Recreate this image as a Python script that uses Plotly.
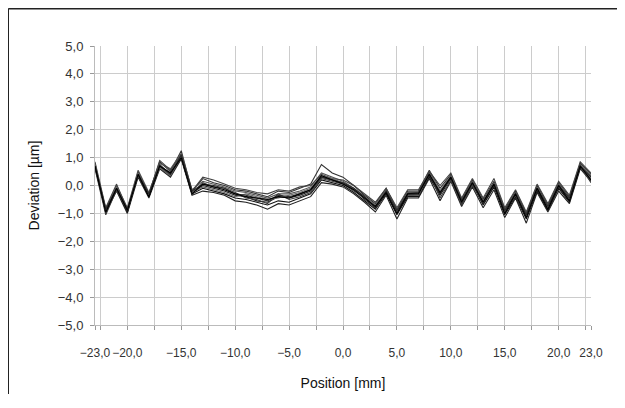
import plotly.graph_objects as go

positions = list(range(-23, 24))

s1 = [0.80,-1.00,-0.05,-0.95,0.45,-0.30,0.85,0.50,1.25,-0.20,0.25,0.10,0.00,-0.15,-0.20,-0.30,-0.40,-0.20,-0.25,-0.10,0.05,0.75,0.45,0.30,0.00,-0.35,-0.65,-0.10,-0.85,-0.20,-0.20,0.55,-0.10,0.40,-0.50,0.20,-0.50,0.15,-0.85,-0.20,-1.00,0.00,-0.70,0.10,-0.40,0.80,0.40]
s2 = [0.70,-0.90,-0.15,-0.85,0.35,-0.40,0.65,0.35,1.00,-0.30,-0.10,-0.20,-0.30,-0.45,-0.50,-0.60,-0.70,-0.55,-0.60,-0.45,-0.30,0.20,0.10,0.00,-0.25,-0.55,-0.85,-0.30,-1.05,-0.40,-0.40,0.30,-0.35,0.25,-0.65,0.05,-0.70,-0.05,-1.05,-0.40,-1.20,-0.20,-0.90,-0.10,-0.60,0.65,0.20]
s3 = [0.75,-0.85,0.00,-0.80,0.55,-0.25,0.80,0.60,1.15,-0.15,0.15,0.05,-0.05,-0.20,-0.25,-0.35,-0.45,-0.30,-0.30,-0.20,-0.05,0.45,0.30,0.15,-0.10,-0.40,-0.70,-0.15,-0.90,-0.25,-0.25,0.50,-0.20,0.35,-0.55,0.15,-0.55,0.10,-0.90,-0.25,-1.05,-0.05,-0.75,0.05,-0.45,0.75,0.35]
s4 = [0.65,-0.95,-0.20,-1.00,0.30,-0.45,0.60,0.30,0.95,-0.35,-0.20,-0.25,-0.35,-0.55,-0.60,-0.70,-0.85,-0.65,-0.70,-0.55,-0.40,0.10,0.05,-0.05,-0.30,-0.60,-0.95,-0.35,-1.20,-0.45,-0.45,0.25,-0.55,0.15,-0.75,-0.05,-0.80,-0.15,-1.15,-0.45,-1.35,-0.25,-0.95,-0.20,-0.65,0.60,0.15]
s5 = [0.85,-0.80,0.05,-0.85,0.50,-0.30,0.90,0.55,1.10,-0.20,0.30,0.20,0.05,-0.10,-0.15,-0.25,-0.30,-0.15,-0.20,-0.05,0.00,0.40,0.25,0.20,0.00,-0.30,-0.60,-0.10,-0.80,-0.15,-0.15,0.50,0.00,0.45,-0.45,0.25,-0.45,0.25,-0.80,-0.15,-0.95,0.05,-0.65,0.15,-0.35,0.85,0.45]
s6 = [0.70,-0.95,-0.10,-0.95,0.40,-0.40,0.70,0.45,1.05,-0.25,0.00,-0.10,-0.20,-0.35,-0.40,-0.55,-0.60,-0.40,-0.45,-0.35,-0.20,0.30,0.20,0.10,-0.15,-0.50,-0.80,-0.25,-1.00,-0.35,-0.35,0.35,-0.30,0.30,-0.60,0.10,-0.65,0.00,-1.00,-0.30,-1.15,-0.15,-0.85,-0.05,-0.55,0.70,0.30]
s7 = [0.60,-1.05,-0.15,-0.90,0.35,-0.35,0.75,0.40,1.00,-0.30,0.10,-0.05,-0.10,-0.25,-0.45,-0.50,-0.65,-0.30,-0.50,-0.40,-0.25,0.25,0.15,0.05,-0.20,-0.45,-0.75,-0.20,-0.95,-0.30,-0.30,0.45,-0.45,0.20,-0.70,0.00,-0.60,0.05,-0.95,-0.35,-1.10,-0.10,-0.80,0.00,-0.50,0.70,0.10]
s8 = [0.75,-0.90,-0.05,-0.90,0.45,-0.35,0.65,0.35,1.05,-0.25,-0.05,-0.15,-0.25,-0.40,-0.30,-0.40,-0.50,-0.45,-0.35,-0.25,-0.10,0.35,0.25,0.10,-0.15,-0.45,-0.70,-0.20,-0.95,-0.30,-0.35,0.40,-0.20,0.35,-0.60,0.10,-0.60,0.05,-0.95,-0.30,-1.10,-0.10,-0.80,0.00,-0.50,0.70,0.25]
s9 = [0.70,-0.85,-0.10,-0.85,0.40,-0.30,0.70,0.40,1.10,-0.20,0.05,0.00,-0.10,-0.30,-0.35,-0.45,-0.55,-0.35,-0.40,-0.30,-0.15,0.30,0.20,0.10,-0.10,-0.40,-0.80,-0.20,-0.90,-0.30,-0.25,0.40,-0.30,0.30,-0.55,0.10,-0.60,0.05,-0.90,-0.30,-1.05,-0.10,-0.75,0.00,-0.45,0.70,0.30]
s10 = [0.70,-0.95,-0.10,-0.90,0.40,-0.40,0.70,0.45,1.00,-0.30,0.05,-0.05,-0.15,-0.30,-0.40,-0.45,-0.50,-0.40,-0.45,-0.30,-0.15,0.35,0.20,0.05,-0.15,-0.45,-0.75,-0.25,-1.00,-0.30,-0.30,0.40,-0.25,0.30,-0.60,0.10,-0.60,0.05,-1.00,-0.30,-1.15,-0.10,-0.85,0.00,-0.55,0.70,0.20]

series = [s1, s2, s3, s4, s5, s6, s7, s8, s9, s10]
line_colors = ["#333333", "#111111", "#555555", "#222222", "#444444",
               "#1a1a1a", "#3a3a3a", "#666666", "#2a2a2a", "#000000"]

x_label_vals = [-23, -20, -15, -10, -5, 0, 5, 10, 15, 20, 23]
x_label_text = ["\u221223,0", "\u221220,0", "\u221215,0", "\u221210,0", "\u22125,0",
                "0,0", "5,0", "10,0", "15,0", "20,0", "23,0"]
x_grid_vals = [-22.5, -20, -17.5, -15, -12.5, -10, -7.5, -5, -2.5, 0,
               2.5, 5, 7.5, 10, 12.5, 15, 17.5, 20, 22.5]

for s in series:
    assert len(s) == len(positions), len(s)

fig = go.Figure()
for s, c in zip(series, line_colors):
    fig.add_trace(go.Scatter(x=positions, y=s, mode="lines",
                             line=dict(color=c, width=1.1), showlegend=False,
                             hoverinfo="skip"))

font_family = "Liberation Sans, Arial, sans-serif"

fig.update_layout(
    width=609, height=386,
    margin=dict(l=87, r=26, t=38, b=69, autoexpand=False),
    paper_bgcolor="white", plot_bgcolor="white",
    separators=", ",
    font=dict(family=font_family, size=13, color="#333333"),
    xaxis=dict(
        range=[-23, 23], automargin=False, tickangle=0,
        tickmode="array", tickvals=x_label_vals, ticktext=x_label_text,
        ticks="outside", ticklen=4, tickcolor="#999999",
        ticklabelstandoff=13,
        showgrid=False, zeroline=False,
        showline=True, linecolor="#bbbbbb", linewidth=1,
        minor=dict(tickmode="array", tickvals=x_grid_vals, showgrid=True,
                   gridcolor="#cccccc", gridwidth=1,
                   ticks="outside", ticklen=4, tickcolor="#999999"),
        tickfont=dict(size=12, color="#333333"),
        title=dict(text="Position [mm]", font=dict(size=14, color="#111111"),
                   standoff=18),
    ),
    yaxis=dict(
        range=[-5, 5], dtick=1, tick0=0, tickformat=".1f", automargin=False,
        ticks="outside", ticklen=4, tickcolor="#999999",
        ticklabelstandoff=4,
        showgrid=True, gridcolor="#cccccc", gridwidth=1,
        zeroline=False,
        showline=True, linecolor="#bbbbbb", linewidth=1,
        tickfont=dict(size=13, color="#333333"),
        title=dict(text="Deviation [µm]", font=dict(size=14, color="#111111"),
                   standoff=14),
    ),
    shapes=[
        dict(type="line", xref="paper", yref="paper",
             x0=-0.1749, x1=1.2, y0=1.1335, y1=1.1335,
             line=dict(color="#222222", width=1.5), layer="above"),
        dict(type="line", xref="paper", yref="paper",
             x0=-0.1749, x1=-0.1749, y0=-0.4, y1=1.1335,
             line=dict(color="#222222", width=1.5), layer="above"),
    ],
)

fig.write_html("out.html")
